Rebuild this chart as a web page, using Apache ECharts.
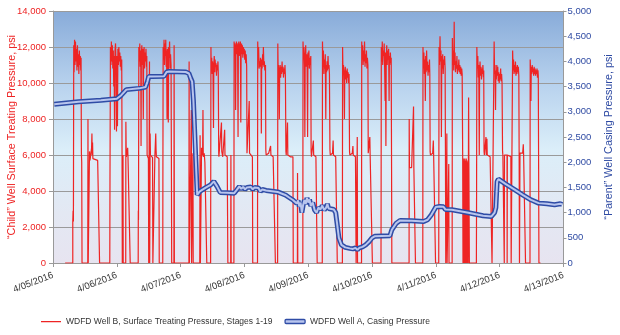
<!DOCTYPE html>
<html><head><meta charset="utf-8">
<script src="https://cdn.jsdelivr.net/npm/echarts@6/dist/echarts.min.js"></script>
<style>html,body{margin:0;padding:0;background:#fff;overflow:hidden}#c{width:620px;height:335px}</style>
</head><body><div id="c"></div>
<script>
// x = days since 4/05/2016 00:00
const dateLabels = ['4/05/2016','4/06/2016','4/07/2016','4/08/2016','4/09/2016','4/10/2016','4/11/2016','4/12/2016','4/13/2016'];
const leftTicks = [0,2000,4000,6000,8000,10000,12000,14000];
const rightTicks = [0,500,1000,1500,2000,2500,3000,3500,4000,4500,5000];
const seriesNames = ['WDFD Well B, Surface Treating Pressure, Stages 1-19','WDFD Well A, Casing Pressure'];

// Child well (Well B) surface treating pressure, psi
const wellBTreating = [
 [0.19,0],[0.31,0],[0.31,2300],[0.315,2900],[0.32,2300],[0.325,12100],[0.33,10600],[0.338,12400],[0.345,11000],[0.352,12300],[0.36,11200],[0.368,11900],[0.375,10700],[0.383,12100],[0.39,10900],[0.398,11600],[0.405,10500],[0.413,11800],[0.42,11000],[0.428,11500],[0.435,10700],[0.44,11400],[0.445,6100],[0.45,5600],[0.455,0],
 [0.545,0],[0.548,8000],[0.552,0],[0.57,0],[0.572,6200],[0.58,5700],[0.60,5800],[0.605,6400],[0.61,7200],[0.615,6000],[0.62,6700],[0.625,5800],[0.64,5750],[0.70,5700],[0.725,5600],[0.73,0],
 [0.89,0],[0.893,4600],[0.897,8700],[0.90,12000],[0.908,11000],[0.915,12300],[0.922,11200],[0.93,12100],[0.937,10800],[0.945,11800],[0.952,9800],[0.958,11500],[0.965,7400],[0.972,11800],[0.98,12200],[0.988,10900],[0.995,7300],[1.002,11500],[1.01,7600],[1.017,11900],[1.025,11000],[1.032,12000],[1.04,11200],[1.047,11700],[1.055,10900],[1.062,11500],[1.07,10700],[1.077,11300],[1.082,6200],[1.086,0],[1.095,0],[1.097,6000],[1.10,0],
 [1.14,0],[1.142,7850],[1.146,6500],[1.15,5900],[1.17,6400],[1.175,5900],[1.205,5850],[1.21,0],
 [1.335,0],[1.337,2900],[1.34,2400],[1.345,12000],[1.352,11200],[1.36,12200],[1.367,10900],[1.375,11800],[1.38,6500],[1.385,11600],[1.392,12100],[1.40,11000],[1.407,11900],[1.415,8000],[1.42,11400],[1.428,12000],[1.435,10800],[1.442,11700],[1.45,11200],[1.457,11900],[1.465,10900],[1.47,11500],[1.475,6000],[1.48,5900],[1.495,5800],[1.50,0],[1.51,0],[1.512,11200],[1.515,0],[1.52,0],[1.522,7200],[1.527,6000],[1.54,5900],[1.56,5850],[1.565,0],
 [1.595,0],[1.597,6000],[1.60,5900],[1.61,7200],[1.615,6300],[1.62,5900],[1.66,5800],[1.665,0],
 [1.72,0],[1.722,4500],[1.726,12000],[1.733,11300],[1.74,12400],[1.747,11000],[1.754,12200],[1.76,11500],[1.767,12400],[1.774,10900],[1.78,11800],[1.787,8000],[1.792,11900],[1.80,11200],[1.807,7800],[1.812,12000],[1.82,11400],[1.827,12300],[1.835,10800],[1.842,11600],[1.85,11000],[1.855,6000],[1.86,0],[1.895,0],[1.898,12100],[1.902,0],
 [2.13,0],[2.133,11200],[2.137,0],[2.165,0],[2.168,8500],[2.172,0],[2.19,0],[2.193,6100],[2.197,0],
 [2.30,0],[2.305,7100],[2.31,0],[2.325,0],[2.328,6400],[2.335,6000],[2.345,6200],[2.35,8500],[2.355,5900],[2.37,6100],[2.38,5600],[2.405,5500],[2.41,0],
 [2.47,0],[2.475,12000],[2.48,10700],[2.487,11400],[2.495,10500],[2.50,11200],[2.507,10800],[2.515,7500],[2.52,11000],[2.527,11500],[2.535,10600],[2.54,11300],[2.548,10900],[2.555,11100],[2.562,10400],[2.57,11000],[2.577,10700],[2.585,11200],[2.59,10600],[2.597,6100],[2.60,5900],[2.63,6000],[2.64,7800],[2.645,6200],[2.66,5900],[2.685,6000],[2.69,7400],[2.695,6000],[2.73,5900],[2.74,0],[2.785,0],[2.788,6000],[2.792,0],
 [2.835,0],[2.838,12300],[2.845,11500],[2.85,12200],[2.857,11700],[2.862,8500],[2.867,11900],[2.875,12300],[2.88,11600],[2.887,12200],[2.893,11800],[2.90,7000],[2.905,12000],[2.912,12300],[2.918,11500],[2.925,12200],[2.93,11700],[2.937,12300],[2.943,7800],[2.948,11800],[2.955,12200],[2.962,11600],[2.968,12100],[2.975,11400],[2.982,12000],[2.99,11600],[2.997,11900],[3.005,11300],[3.012,11800],[3.02,11100],[3.027,11600],[3.035,10900],[3.04,6100],[3.05,6000],[3.07,6200],[3.075,9000],[3.08,6100],[3.10,6000],[3.125,5900],[3.13,0],
 [3.205,0],[3.208,12300],[3.215,11300],[3.222,12000],[3.23,10800],[3.237,11200],[3.245,10900],[3.252,11400],[3.26,11000],[3.265,7200],[3.27,11300],[3.277,10800],[3.285,11600],[3.29,11000],[3.297,12000],[3.305,10900],[3.312,11200],[3.32,10700],[3.33,11000],[3.335,6300],[3.34,6000],[3.38,6100],[3.40,6000],[3.41,6500],[3.415,6000],[3.45,5900],[3.48,5900],[3.485,0],
 [3.52,0],[3.523,12200],[3.528,10800],[3.535,11000],[3.54,10400],[3.547,8000],[3.552,10700],[3.56,11000],[3.567,10300],[3.575,10900],[3.582,10500],[3.59,11200],[3.597,10600],[3.605,10900],[3.612,10300],[3.62,10800],[3.627,10500],[3.635,11000],[3.642,10400],[3.65,6200],[3.655,6000],[3.67,6100],[3.675,7800],[3.68,6000],[3.72,5900],[3.76,5900],[3.765,0],[3.83,0],[3.832,5000],[3.836,0],
 [3.915,0],[3.918,12300],[3.925,11300],[3.932,12000],[3.94,11000],[3.947,7000],[3.952,11500],[3.96,12100],[3.967,10900],[3.975,11600],[3.982,11200],[3.99,7000],[3.995,11700],[4.002,11000],[4.01,11800],[4.017,10800],[4.025,11400],[4.032,11000],[4.04,11500],[4.045,6200],[4.05,5900],[4.075,6000],[4.08,6800],[4.085,6000],[4.12,5900],[4.135,5900],[4.14,0],
 [4.22,0],[4.223,12300],[4.23,10900],[4.237,11800],[4.245,10500],[4.252,11300],[4.26,10800],[4.267,11600],[4.275,8000],[4.28,11000],[4.287,10600],[4.295,11200],[4.302,10700],[4.31,11500],[4.317,10800],[4.325,11000],[4.332,10500],[4.34,6300],[4.345,6000],[4.38,6100],[4.39,6800],[4.395,6000],[4.43,5900],[4.45,5900],[4.455,0],
 [4.535,0],[4.538,12000],[4.545,10500],[4.552,11000],[4.56,10100],[4.567,8000],[4.572,10600],[4.58,10900],[4.587,10200],[4.595,10700],[4.602,10000],[4.61,10800],[4.617,10300],[4.625,10600],[4.632,10000],[4.64,10500],[4.647,6200],[4.652,6000],[4.69,6100],[4.70,6500],[4.705,6000],[4.74,5900],[4.75,0],[4.765,0],[4.768,7000],[4.772,0],
 [4.835,0],[4.838,12300],[4.845,11300],[4.852,12100],[4.86,11000],[4.867,11800],[4.875,11200],[4.882,12300],[4.89,10900],[4.897,11600],[4.905,11100],[4.912,11800],[4.92,10800],[4.927,11400],[4.935,11000],[4.94,6100],[4.945,6000],[4.96,6200],[4.965,7000],[4.97,6000],[5.00,5900],[5.005,0],
 [5.14,0],[5.142,4000],[5.145,12000],[5.152,11200],[5.16,12300],[5.167,11000],[5.175,11800],[5.182,11500],[5.19,12200],[5.197,10900],[5.205,9000],[5.21,11700],[5.217,6500],[5.222,11400],[5.23,12100],[5.237,11000],[5.245,11800],[5.252,11300],[5.26,11900],[5.267,9000],[5.272,11500],[5.28,11100],[5.287,11700],[5.295,11000],[5.30,11400],[5.305,6000],[5.31,0],
 [5.58,0],[5.582,8000],[5.586,5300],[5.60,5200],[5.62,5300],[5.645,5200],[5.65,8700],[5.655,5300],[5.675,5200],[5.68,0],
 [5.795,0],[5.798,12000],[5.805,10800],[5.812,11700],[5.82,10500],[5.827,11300],[5.835,9000],[5.84,11500],[5.847,10600],[5.855,11800],[5.862,10700],[5.87,11200],[5.877,10400],[5.885,11000],[5.892,10600],[5.90,11300],[5.905,10500],[5.91,6200],[5.915,6000],[5.95,6100],[5.96,6800],[5.965,6000],[5.99,5900],[5.995,0],
 [6.045,0],[6.048,8000],[6.05,12000],[6.057,11000],[6.065,12600],[6.072,11200],[6.08,11800],[6.087,7000],[6.092,11500],[6.10,10800],[6.107,11600],[6.115,10500],[6.122,11300],[6.13,11000],[6.137,11500],[6.145,10800],[6.15,6000],[6.155,0],[6.17,0],[6.172,7200],[6.176,0],[6.20,0],[6.202,5500],[6.206,0],
 [6.255,0],[6.258,12500],[6.265,11000],[6.272,11800],[6.28,10700],[6.287,13400],[6.292,11000],[6.30,11700],[6.307,10600],[6.315,11200],[6.322,10800],[6.33,11500],[6.337,10500],[6.345,11000],[6.352,10700],[6.36,11300],[6.367,10600],[6.375,11000],[6.382,10500],[6.39,10900],[6.397,10400],[6.405,10800],[6.412,10500],[6.42,6000],[6.425,0],[6.43,5800],[6.435,0],[6.44,5700],[6.447,0],[6.452,5800],[6.46,0],[6.465,5700],[6.47,0],[6.476,5800],[6.482,0],[6.488,5700],[6.495,0],[6.50,5600],[6.505,0],[6.51,0],[6.513,9200],[6.517,5600],[6.525,0],
 [6.635,0],[6.638,4000],[6.642,12000],[6.65,10800],[6.657,11500],[6.665,10300],[6.672,11000],[6.68,6000],[6.685,10600],[6.692,11200],[6.70,10400],[6.707,10900],[6.715,10200],[6.722,10800],[6.73,10500],[6.737,11000],[6.745,10300],[6.75,10700],[6.755,6200],[6.76,6000],[6.78,6100],[6.785,7000],[6.79,6000],[6.80,6900],[6.805,6000],[6.85,5900],[6.875,5900],[6.88,0],
 [6.91,0],[6.913,12300],[6.92,10500],[6.927,11000],[6.935,8500],[6.94,10700],[6.947,10200],[6.955,11000],[6.962,10400],[6.97,10900],[6.977,10100],[6.985,10600],[6.992,10000],[7.0,10500],[7.007,10200],[7.015,10800],[7.022,10100],[7.03,10500],[7.037,10000],[7.045,6200],[7.05,6000],[7.07,6000],[7.072,0],[7.075,6000],[7.10,6100],[7.115,6000],[7.117,0],[7.12,6000],[7.15,5900],[7.175,5900],[7.18,0],
 [7.20,0],[7.203,11800],[7.21,10700],[7.217,11300],[7.225,10500],[7.232,11000],[7.24,10600],[7.247,11200],[7.255,10400],[7.262,10900],[7.27,10500],[7.277,11000],[7.285,10600],[7.292,10900],[7.30,10400],[7.305,6000],[7.31,0],[7.315,0],[7.318,6100],[7.33,6000],[7.36,6100],[7.37,6600],[7.375,6000],[7.40,5900],[7.405,0],
 [7.475,0],[7.478,11300],[7.485,10600],[7.49,9000],[7.495,10900],[7.502,10500],[7.51,11000],[7.517,10600],[7.525,10800],[7.532,10400],[7.54,10900],[7.547,10500],[7.555,10800],[7.562,10400],[7.57,10700],[7.577,10500],[7.585,10800],[7.592,10300],[7.60,10700],[7.605,10400],[7.61,5500],[7.615,0],[7.64,0]
];

// Parent well (Well A) casing pressure, psi
const wellACasing = [
 [0.02,3150],[0.40,3200],[0.75,3230],[1.0,3260],[1.07,3330],[1.15,3440],[1.35,3465],[1.45,3490],[1.48,3600],[1.50,3700],[1.55,3700],[1.74,3705],[1.78,3790],[1.82,3800],[2.08,3790],[2.13,3760],[2.16,3660],[2.18,3600],[2.20,3230],[2.26,1350],[2.27,1320],[2.30,1420],[2.40,1500],[2.47,1550],[2.52,1620],[2.57,1520],[2.62,1400],[2.73,1395],[2.84,1385],[2.88,1450],[2.92,1520],[2.95,1470],[2.98,1510],[3.01,1460],[3.04,1500],[3.07,1470],[3.10,1510],[3.13,1460],[3.16,1500],[3.19,1470],[3.22,1490],[3.25,1420],[3.28,1460],[3.31,1490],[3.34,1440],[3.37,1470],[3.40,1430],[3.43,1460],[3.46,1420],[3.49,1450],[3.52,1410],[3.55,1440],[3.58,1380],[3.61,1410],[3.64,1350],[3.67,1380],[3.70,1300],[3.73,1330],[3.76,1250],[3.79,1280],[3.82,1180],[3.84,1240],[3.86,1120],[3.88,1200],[3.90,1000],[3.92,1150],[3.94,1250],[3.96,1170],[3.98,1290],[4.00,1200],[4.02,1260],[4.04,1130],[4.07,1200],[4.10,1050],[4.13,1000],[4.16,1100],[4.19,1060],[4.22,1140],[4.25,1050],[4.28,1100],[4.30,1170],[4.32,1080],[4.35,1100],[4.40,1060],[4.43,1000],[4.45,800],[4.48,500],[4.52,360],[4.58,310],[4.65,290],[4.70,280],[4.74,300],[4.77,260],[4.80,300],[4.85,320],[4.90,360],[4.95,420],[5.00,500],[5.04,530],[5.28,540],[5.31,660],[5.38,790],[5.44,845],[5.62,838],[5.81,825],[5.87,858],[5.93,957],[6.00,1109],[6.06,1122],[6.12,1115],[6.15,1060],[6.18,1043],[6.25,1056],[6.49,1003],[6.74,937],[6.87,924],[6.92,1000],[6.94,1100],[6.96,1617],[6.98,1663],[7.09,1570],[7.24,1452],[7.36,1353],[7.49,1254],[7.61,1188],[7.74,1175],[7.86,1155],[7.95,1175],[7.98,1160]
];

const FONT = "'Liberation Sans',Arial,sans-serif";
const RED = '#ee2424', BLUE = '#2f4ca6', BLUE_IN = '#b8c5ee', RIGHT_TXT = '#2f4ba3';
const fmt = v => v.toLocaleString('en-US');

const chart = echarts.init(document.getElementById('c'), null, {renderer:'canvas'});
chart.setOption({
  animation:false,
  backgroundColor:'#ffffff',
  grid:{left:53, right:56.5, top:11, bottom:72, show:true, borderWidth:0, containLabel:false, outerBoundsMode:'none',
    backgroundColor:{type:'linear',x:0,y:0,x2:0,y2:1,colorStops:[
      {offset:0,color:'#88abd9'},{offset:0.3,color:'#b9d3ee'},{offset:0.55,color:'#dbeef9'},{offset:0.8,color:'#e3e8f3'},{offset:1,color:'#e7e4f0'}]}},
  legend:{
    bottom:4, left:36, itemWidth:20, itemHeight:4, itemGap:12,
    textStyle:{fontFamily:FONT, fontSize:8.5, color:'#333'},
    data:[
      {name:seriesNames[0], icon:'path://M0,0h0.01v0.01h-0.01z M0,1.4h20v1.3h-20z M19.99,3.99h0.01v0.01h-0.01z', itemStyle:{color:RED}},
      {name:seriesNames[1], icon:'roundRect', itemStyle:{color:BLUE_IN, borderColor:BLUE, borderWidth:1.3}}
    ]
  },
  xAxis:{type:'value', min:0, max:8, interval:1,
    axisLine:{lineStyle:{color:'#999'}}, axisTick:{length:4, lineStyle:{color:'#999'}},
    splitLine:{show:false},
    axisLabel:{rotate:21, margin:12, fontFamily:FONT, fontSize:9.5, color:'#383838',
      formatter:v => dateLabels[Math.round(v)] || ''}},
  yAxis:[
    {type:'value', min:leftTicks[0], max:leftTicks[leftTicks.length-1], interval:leftTicks[1]-leftTicks[0],
     name:'\u201cChild\u201d Well Surface Treating Pressure, psi', nameLocation:'middle', nameGap:35.5, nameRotate:90, nameMoveOverlap:false,
     nameTextStyle:{fontFamily:FONT, fontSize:10.8, color:RED},
     axisLine:{show:true, lineStyle:{color:'#999'}}, axisTick:{show:true, length:4, lineStyle:{color:'#999'}},
     splitLine:{lineStyle:{color:'#9a9a9a', width:1}},
     axisLabel:{fontFamily:FONT, fontSize:9.5, color:RED, margin:7, formatter:fmt}},
    {type:'value', min:rightTicks[0], max:rightTicks[rightTicks.length-1], interval:rightTicks[1]-rightTicks[0],
     name:'\u201cParent\u201d Well Casing Pressure, psi', nameLocation:'middle', nameGap:40, nameRotate:90,
     nameTextStyle:{fontFamily:FONT, fontSize:10.8, color:RIGHT_TXT},
     axisLine:{show:true, lineStyle:{color:'#999'}}, axisTick:{show:true, length:3, lineStyle:{color:'#999'}},
     splitLine:{show:false},
     axisLabel:{fontFamily:FONT, fontSize:9.5, color:RIGHT_TXT, margin:4, formatter:fmt}}
  ],
  series:[
    {name:seriesNames[0], type:'line', yAxisIndex:0, data:wellBTreating, showSymbol:false, symbol:'none',
     lineStyle:{color:RED, width:1.2}, itemStyle:{color:RED}, z:2},
    {name:seriesNames[1], type:'line', yAxisIndex:1, data:wellACasing, showSymbol:false, symbol:'none',
     lineStyle:{color:BLUE, width:5}, itemStyle:{color:BLUE}, z:3},
    {name:'inner', type:'line', yAxisIndex:1, data:wellACasing, showSymbol:false, symbol:'none',
     lineStyle:{color:BLUE_IN, width:2}, itemStyle:{color:BLUE_IN}, z:4}
  ]
});
</script></body></html>
